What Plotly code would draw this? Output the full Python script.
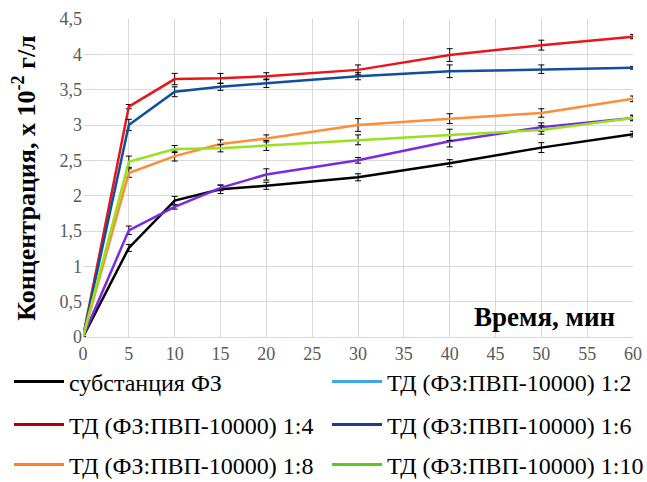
import plotly.graph_objects as go

time_min = [0, 5, 10, 15, 20, 30, 40, 50, 60]

conc_substance = [0, 1.26, 1.93, 2.09, 2.14, 2.26, 2.46, 2.68, 2.87]
conc_1_2 = [0, 1.51, 1.84, 2.11, 2.30, 2.50, 2.77, 2.97, 3.10]
conc_1_4 = [0, 3.26, 3.65, 3.66, 3.69, 3.78, 3.99, 4.13, 4.25]
conc_1_6 = [0, 3.00, 3.47, 3.54, 3.59, 3.69, 3.76, 3.79, 3.81]
conc_1_8 = [0, 2.32, 2.56, 2.73, 2.81, 3.00, 3.09, 3.17, 3.37]
conc_1_10 = [0, 2.48, 2.66, 2.67, 2.71, 2.79, 2.86, 2.93, 3.10]

err_substance = [0, 0.05, 0.06, 0.06, 0.05, 0.05, 0.05, 0.07, 0.04]
err_1_2 = [0, 0.06, 0.03, 0.04, 0.08, 0.04, 0.08, 0.06, 0.03]
err_1_4 = [0, 0.03, 0.08, 0.07, 0.05, 0.07, 0.09, 0.07, 0.03]
err_1_6 = [0, 0.08, 0.07, 0.05, 0.06, 0.05, 0.09, 0.06, 0.02]
err_1_8 = [0, 0.06, 0.07, 0.06, 0.05, 0.09, 0.07, 0.06, 0.04]
err_1_10 = [0, 0.08, 0.05, 0.05, 0.07, 0.07, 0.08, 0.06, 0.04]

legend_labels = ["субстанция ФЗ", "ТД (ФЗ:ПВП-10000) 1:2", "ТД (ФЗ:ПВП-10000) 1:4",
                 "ТД (ФЗ:ПВП-10000) 1:6", "ТД (ФЗ:ПВП-10000) 1:8", "ТД (ФЗ:ПВП-10000) 1:10"]

series = [
    (conc_substance, err_substance, "#000000"),
    (conc_1_2, err_1_2, "#7A2BE2"),
    (conc_1_4, err_1_4, "#E8161B"),
    (conc_1_6, err_1_6, "#104E9E"),
    (conc_1_8, err_1_8, "#FF8C38"),
    (conc_1_10, err_1_10, "#97E11F"),
]
legend_colors = ["#000000", "#3FA6EE", "#B40000", "#1A3C8C", "#FF7F27", "#5CC81E"]

W, H = 647.0, 482.0
legend_x_px = [9, 327]
legend_y_px = [382, 425, 465]

fig = go.Figure()
for vals, errs, col in series:
    fig.add_trace(go.Scatter(
        x=time_min, y=vals, mode="lines", showlegend=False,
        line=dict(color=col, width=2.5),
        error_y=dict(type="data", array=errs, visible=True, color="#000000",
                     thickness=1, width=3),
    ))

serif = "'Liberation Serif', 'Times New Roman', Times, serif"
legend_font = dict(family=serif, size=24, color="#000000")

legend_layouts = {}
for i, (lab, col) in enumerate(zip(legend_labels, legend_colors)):
    key = "legend" if i == 0 else "legend%d" % (i + 1)
    fig.add_trace(go.Scatter(x=[None], y=[None], mode="lines", name=lab, legend=key,
                             line=dict(color=col, width=3)))
    px = legend_x_px[i % 2]
    py = legend_y_px[i // 2]
    legend_layouts[key] = dict(orientation="h", xref="container", yref="container",
                               x=px / W, xanchor="left", y=1 - py / H, yanchor="middle",
                               font=legend_font, itemwidth=50,
                               bgcolor="rgba(0,0,0,0)")

fig.update_layout(
    width=647, height=482,
    margin=dict(l=83, r=14, t=19, b=145, autoexpand=False),
    paper_bgcolor="white", plot_bgcolor="white",
    separators=", ",
    font=dict(family=serif, color="#000000"),
    xaxis=dict(range=[0, 60], dtick=5, tick0=0, showgrid=True, gridcolor="#D9D9D9",
               gridwidth=1, zeroline=False, showline=True, linecolor="#D9D9D9",
               ticks="", automargin=False,
               tickfont=dict(family=serif, size=18, color="#595959")),
    yaxis=dict(range=[0, 4.5], dtick=0.5, tick0=0, showgrid=True, gridcolor="#D9D9D9",
               gridwidth=1, zeroline=False, showline=False, ticks="", automargin=False,
               tickfont=dict(family=serif, size=18, color="#595959"),
               title=dict(text="<b>Концентрация, х 10<sup>-2</sup> г/л</b>",
                          font=dict(family=serif, size=26, color="#000000"),
                          standoff=16)),
    annotations=[dict(text="<b>Время, мин</b>", xref="paper", yref="paper",
                      x=0.971, y=0.063, xanchor="right", yanchor="middle",
                      showarrow=False, font=dict(family=serif, size=27, color="#000000"))],
    **legend_layouts,
)

fig.write_html("out.html", config={"displayModeBar": False},
               post_script="document.body.style.margin='0';")
